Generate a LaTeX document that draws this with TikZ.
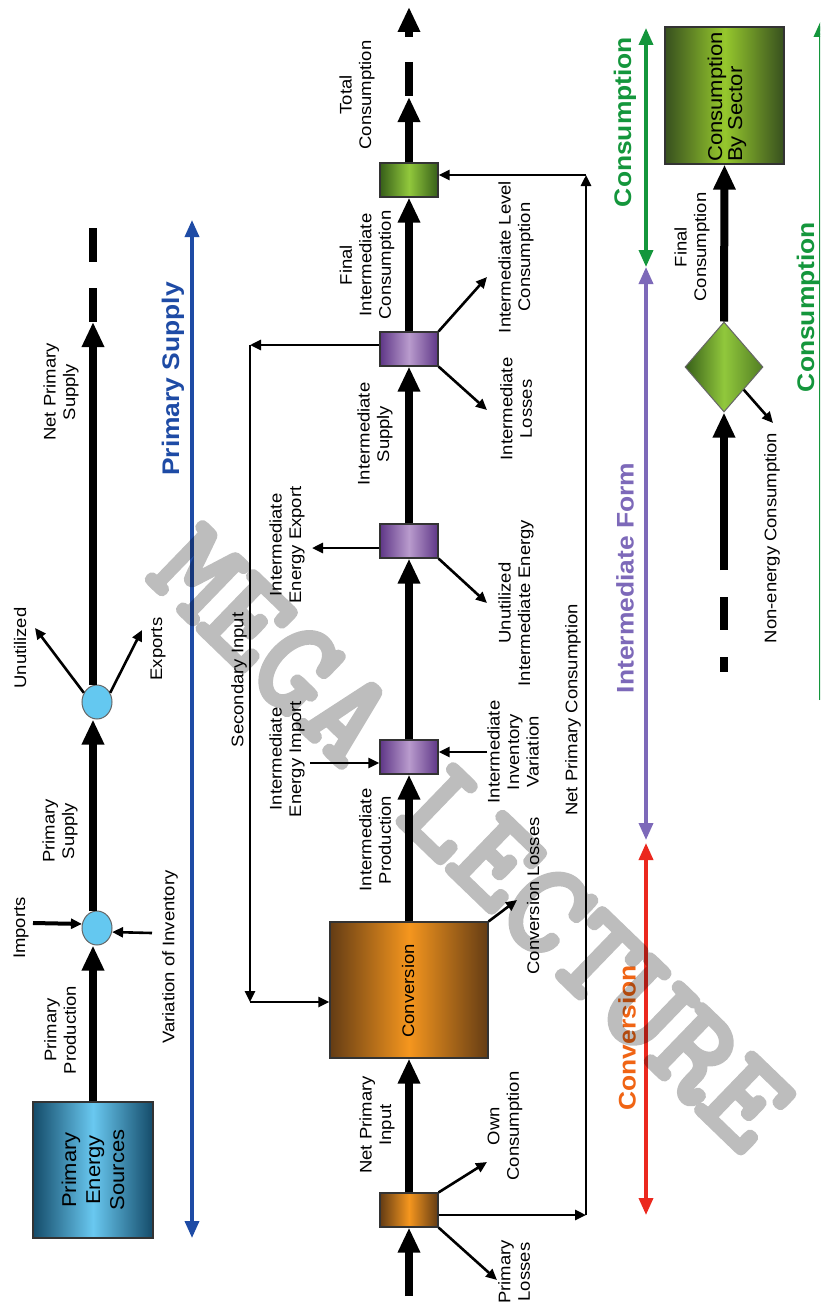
\documentclass[tikz,border=0pt]{standalone}
\usepackage{fontspec}
\setmainfont{Liberation Sans}[FakeStretch=1.1]
\newfontfamily\wmfont{lmmono10-regular.otf}[FakeBold=4.5]
\usetikzlibrary{arrows.meta,shapes.geometric,calc}
\definecolor{pesdark}{RGB}{20,75,105}
\definecolor{peslight}{RGB}{105,200,240}
\definecolor{odark}{RGB}{100,60,20}
\definecolor{olight}{RGB}{245,150,30}
\definecolor{pdark}{RGB}{95,55,135}
\definecolor{plight}{RGB}{185,155,205}
\definecolor{gdark}{RGB}{55,95,25}
\definecolor{glight}{RGB}{145,200,60}
\definecolor{csdark}{RGB}{55,80,30}
\definecolor{cslight}{RGB}{150,200,45}
\definecolor{cblue}{RGB}{100,200,240}
\definecolor{lblue}{RGB}{30,75,165}
\definecolor{lgreen}{RGB}{20,150,60}
\definecolor{lpurple}{RGB}{125,105,185}
\definecolor{lred}{RGB}{235,40,30}
\definecolor{lorange}{RGB}{240,100,20}
\tikzset{
  lab/.style={rotate=90, align=center, inner sep=0, font=\fontsize{16.8}{19.5}\selectfont},
  biglab/.style={rotate=90, inner sep=0, font=\fontsize{24}{26}\selectfont\bfseries},
  flow/.style={line width=8pt, -{Triangle[length=25pt,width=21pt]}},
  thinarr/.style={line width=2.6pt, -{Triangle[length=11pt,width=10pt]}},
  dashseg/.style={line width=8pt},
  dbl/.style={line width=3.5pt, {Triangle[length=17pt,width=14pt]}-{Triangle[length=17pt,width=14pt]}},
  boxbase/.style={draw=black!80, line width=1.2pt, inner sep=0, minimum width=58pt, minimum height=34pt},
  obox/.style={boxbase, left color=odark, right color=odark, middle color=olight},
  pbox/.style={boxbase, left color=pdark, right color=pdark, middle color=plight},
  gbox/.style={boxbase, left color=gdark, right color=gdark, middle color=glight},
  circ/.style={ellipse, draw=black!60, line width=1pt, fill=cblue, minimum width=30pt, minimum height=34pt, inner sep=0},
}
\begin{document}
\begin{tikzpicture}[x=1pt,y=-1pt]
\useasboundingbox (0,0) rectangle (820,1306);
\fill[white] (0,0) rectangle (820,1306);
\clip (0,0) rectangle (820,1306);

% ---------- primary supply column ----------
\node[boxbase, minimum width=120pt, minimum height=136pt, left color=pesdark, right color=pesdark, middle color=peslight] (pes) at (93,1170) {};
\node[lab, font=\fontsize{20}{24}\selectfont] (pestxt) at (pes) {Primary\\Energy\\Sources};
\node[circ] (c1) at (97,928) {};
\node[circ] (c2) at (97,702) {};
\draw[flow] (pes.north) -- (pes.north |- c1.south);
\draw[flow] (pes.north |- c1.north) -- (pes.north |- c2.south);
\coordinate (nps) at (93,322);
\draw[flow] (pes.north |- c2.north) -- (nps);
\draw[dashseg] (93,288) -- (93,322);
\draw[dashseg] (93,228) -- (93,262);
\coordinate (impS) at (33,923);
\draw[thinarr, line width=4pt] (impS) -- (c1.165);
\coordinate (varS) at (152,933);
\draw[thinarr] (varS) -- (c1.-15);
\coordinate (unu) at (35,628);
\draw[thinarr] (c2.145) -- (unu);
\coordinate (expt) at (142,630);
\draw[thinarr] (c2.35) -- (expt);

\node[lab] (t1) at (60,1030) {Primary\\Production};
\node[lab] (t2) at (21,928) {Imports};
\node[lab] (t3) at (170,957) {Variation of Inventory};
\node[lab] (t4) at (60,831) {Primary\\Supply};
\node[lab] (t5) at (20,648) {Unutilized};
\node[lab] (t6) at (158,649) {Exports};
\node[lab] (t7) at (61,392) {Net Primary\\Supply};

\coordinate (bl1) at (192,220);
\coordinate (bl2) at (192,1238);
\draw[dbl, lblue] (bl1) -- (bl2);
\node[biglab, text=lblue] (t8) at (173,379) {Primary Supply};

% ---------- main chain ----------
\node[obox] (sob) at (409,1210) {};
\node[obox, minimum width=158pt, minimum height=136pt] (conv) at (409,990) {};
\node[lab] (convtxt) at (408,991) {Conversion};
\node[pbox] (p1) at (409,757) {};
\node[pbox] (p2) at (409,541) {};
\node[pbox] (p3) at (409,349) {};
\node[gbox] (gb) at (409,180) {};
\coordinate (in0) at (409,1296);
\draw[flow] (in0) -- (sob.south);
\draw[flow] (sob.north) -- (conv.south);
\draw[flow] (conv.north) -- (p1.south);
\draw[flow] (p1.north) -- (p2.south);
\draw[flow] (p2.north) -- (p3.south);
\draw[flow] (p3.north) -- (gb.south);
\coordinate (tc) at (409,97);
\draw[flow] (gb.north) -- (tc);
\draw[dashseg] (409,62) -- (409,96);
\coordinate (tt0) at (409,37);
\coordinate (tt1) at (409,7);
\draw[flow] (tt0) -- (tt1);

\coordinate (pl) at (497,1280);
\draw[thinarr] (sob.south east) -- (pl);
\coordinate (oc) at (487,1162);
\draw[thinarr] (sob.north east) -- (oc);
\coordinate (npc1) at (586,1215);
\coordinate (npc2) at (586,175);
\draw[thinarr] ($(sob.east)+(0,5)$) -- (npc1);
\draw[thinarr] (npc1) -- (npc2);
\draw[thinarr] (npc2) -- (npc2 -| gb.east);
\coordinate (si1) at (250,345);
\coordinate (si2) at (250,1002);
\draw[thinarr] ($(p3.west)+(0,-4)$) -- (si1);
\draw[thinarr] (si1) -- (si2);
\draw[thinarr] (si2) -- (si2 -| conv.west);
\coordinate (cl) at (517,900);
\draw[thinarr] (conv.north east) -- (cl);
\coordinate (iei) at (310,763);
\draw[thinarr] (iei) -- (iei -| p1.west);
\coordinate (iiv) at (487,752);
\draw[thinarr] (iiv) -- (iiv -| p1.east);
\coordinate (iee) at (312,548);
\draw[thinarr] (p2.west |- iee) -- (iee);
\coordinate (uie) at (487,603);
\draw[thinarr] (p2.south east) -- (uie);
\coordinate (il) at (487,410);
\draw[thinarr] (p3.south east) -- (il);
\coordinate (ilc) at (487,277);
\draw[thinarr] (p3.north east) -- (ilc);

\node[lab] (m1) at (239,680) {Secondary Input};
\node[lab] (m2) at (287,759) {Intermediate\\Energy Import};
\node[lab] (m3) at (287,545) {Intermediate\\Energy Export};
\node[lab] (m4) at (377,1125) {Net Primary\\Input};
\node[lab] (m5) at (375,840) {Intermediate\\Production};
\node[lab] (m6) at (375,434) {Intermediate\\Supply};
\node[lab] (m7) at (367,265) {Final\\Intermediate\\Consumption};
\node[lab] (m8) at (357,95) {Total\\Consumption};
\node[lab] (m9) at (514,1272) {Primary\\Losses};
\node[lab] (m10) at (505,1126) {Own\\Consumption};
\node[lab] (m11) at (533,896) {Conversion Losses};
\node[lab] (m12) at (513,752) {Intermediate\\Inventory\\Variation};
\node[lab] (m13) at (516,603) {Unutilized\\Intermediate Energy};
\node[lab] (m14) at (516,409) {Intermediate\\Losses};
\node[lab] (m15) at (516,257) {Intermediate Level\\Consumption};
\node[lab] (m16) at (573,710) {Net Primary Consumption};

% ---------- stage arrows ----------
\coordinate (g1) at (646,28);
\coordinate (g2) at (646,267);
\coordinate (g3) at (646,840);
\coordinate (g4) at (646,843);
\coordinate (g5) at (646,1215);
\draw[dbl, lgreen] (g1) -- (g2);
\draw[dbl, lpurple] (g2) -- (g3);
\draw[dbl, lred] (g4) -- (g5);
\node[biglab, text=lgreen] (s1) at (625,122) {Consumption};
\node[biglab, text=lpurple] (s2) at (625,578) {Intermediate Form};
\node[biglab, text=lorange] (s3) at (627,1038) {Conversion};

% ---------- consumption column ----------
\node[boxbase, minimum width=119pt, minimum height=137pt, left color=csdark, right color=csdark, middle color=cslight] (cs) at (724.5,95.5) {};
\node[lab, font=\fontsize{20}{20}\selectfont, align=left, anchor=west] (cstxt) at (727,162) {Consumption\\By Sector};
\node[diamond, draw=black!60, line width=1pt, inner sep=0, minimum width=78pt, minimum height=90pt, left color=gdark, right color=gdark!70!glight, middle color=glight] (dia) at (724,367) {};
\draw[flow] (dia.north) -- (cs.south);
\coordinate (nen) at (773,423);
\draw[thinarr] (dia.south east) -- (nen);
\coordinate (nein) at (724,570);
\draw[flow] (nein) -- (dia.south);
\draw[dashseg] (724,597) -- (724,630);
\draw[dashseg] (724,657) -- (724,672);
\node[lab] (k1) at (692,247) {Final\\Consumption};
\node[lab] (k2) at (772,538) {Non-energy Consumption};
\node[biglab, text=lgreen] (k3) at (808,307) {Consumption};
\coordinate (rg1) at (821,20);
\coordinate (rg2) at (821,700);
\draw[line width=3.5pt, lgreen, -{Triangle[length=17pt,width=14pt]}] (rg2) -- (rg1);

% ---------- watermark ----------
\begin{scope}[transparency group, opacity=0.26]
\node[rotate=-44, inner sep=0, text=black, font=\wmfont\fontsize{132}{132}\selectfont] (wm) at (472,838) {MEGA LECTURE};
\end{scope}
\end{tikzpicture}
\end{document}
